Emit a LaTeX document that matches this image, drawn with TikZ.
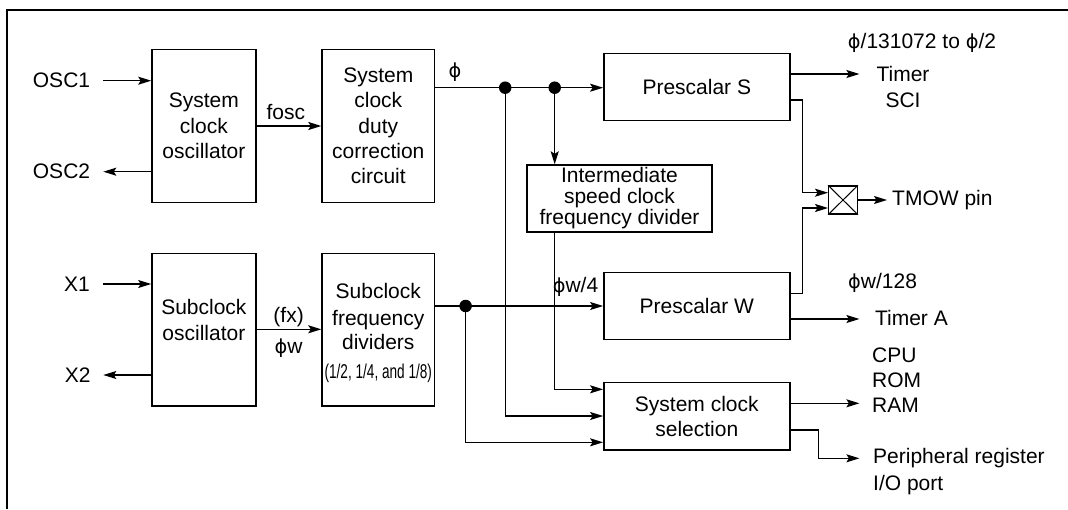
\documentclass[tikz,border=0pt]{standalone}
\usepackage{fontspec}
\usepackage{graphicx}
\setmainfont{Liberation Sans}
\newfontfamily\dvs[Scale=0.92]{DejaVu Sans}
\newcommand\ph{{\dvs ϕ}}
\newcommand\fs{\fontsize{21}{25.7}\selectfont}
\usetikzlibrary{arrows.meta,calc}
\begin{document}
\begin{tikzpicture}[x=1pt,y=-1pt,
  blk/.style={draw, line width=1.4pt, inner sep=0pt, align=center, font=\fs},
  lbl/.style={inner sep=0pt, font=\fs},
  arr/.style={-{Stealth[length=13pt,width=8pt,inset=2.5pt]}, line width=1.3pt},
  ln/.style={line width=1.3pt},
  jdot/.style={circle, fill, inner sep=0pt, minimum size=12.5pt}]
\useasboundingbox (0,0) rectangle (1068,509);
\draw[line width=2.3pt] (6.9,509) -- (6.9,10) -- (1068,10);

% blocks
\node[blk, minimum width=104pt, minimum height=153pt] (sco) at (203.9,125.8) {System\\clock\\oscillator};
\node[blk, minimum width=112.6pt, minimum height=153pt, font=\fontsize{21}{25.2}\selectfont] (dcc) at (378.3,125.8) {System\\clock\\duty\\correction\\circuit};
\node[blk, minimum width=104pt, minimum height=152.7pt] (sub) at (203.9,329.7) {};
\node[lbl, align=center] at (203.9,320) {Subclock\\oscillator};
\node[blk, minimum width=112.6pt, minimum height=152.7pt] (sfd) at (378.3,329.7) {};
\node[lbl, align=center] at (378.3,333) {Subclock\\[1pt]frequency\\[-1.4pt]dividers\\[3.3pt]\scalebox{0.68}[1]{\fontsize{20}{20}\selectfont(1/2, 1/4, and 1/8)}};
\node[blk, minimum width=186pt, minimum height=67.4pt] (psS) at (696.8,87) {Prescalar S};
\node[blk, minimum width=185pt, minimum height=67pt, font=\fontsize{21}{21}\selectfont] (isd) at (619.5,198.5) {Intermediate\\speed clock\\frequency divider};
\node[blk, minimum width=186pt, minimum height=67pt] (psW) at (696.8,305.8) {Prescalar W};
\node[blk, minimum width=186pt, minimum height=67.3pt] (scs) at (696.8,416.4) {System clock\\selection};
\node[draw, line width=1.4pt, inner sep=0pt, minimum width=28.5pt, minimum height=28pt] (xb) at (843,200) {};
\draw[line width=1pt] (xb.north west) -- (xb.south east) (xb.south west) -- (xb.north east);

% junctions
\coordinate (j1) at (505.2,87.7);
\coordinate (j2) at (554.7,87.7);
\coordinate (j3) at (465.6,306);

% pins
\coordinate (p1) at (103.3,80.7);
\coordinate (p2) at (103.3,171.7);
\coordinate (p3) at (103.3,284);
\coordinate (p4) at (103.3,375);
\draw[arr] (p1) -- (p1 -| sco.west);
\draw[arr] (p2 -| sco.west) -- (p2);
\draw[arr] (p3) -- (p3 -| sub.west);
\draw[arr] (p4 -| sub.west) -- (p4);
\node[lbl] (osc1) at (61.5,80.7) {OSC1};
\node[lbl] (osc2) at (61.5,171.7) {OSC2};
\node[lbl] (x1) at (77,284) {X1};
\node[lbl] (x2) at (77.8,375) {X2};

% fosc and fx
\coordinate (cf) at (0,126);
\draw[arr] (cf -| sco.east) -- (cf -| dcc.west);
\node[lbl] at (285.8,112) {fosc};
\coordinate (cx) at (0,329.3);
\draw[arr] (cx -| sub.east) -- (cx -| sfd.west);
\node[lbl] at (288.6,317) {(fx)};
\node[lbl] at (288.6,348) {\ph w};

% phi bus
\draw[arr] (j1 -| dcc.east) -- (j2 -| psS.west);
\node[lbl] at (455,72) {\ph};
\draw[arr] (j2) -- (j2 |- isd.north);
\coordinate (c389) at (0,389.3);
\coordinate (c416) at (0,416);
\coordinate (c442) at (0,442.3);
\draw[arr] (isd.south -| j2) -- (j2 |- c389) -- (c389 -| scs.west);
\draw[arr] (j1) -- (j1 |- c416) -- (c416 -| scs.west);
\draw[arr] (j3 -| sfd.east) -- (j3 -| psW.west);
\draw[arr] (j3) -- (j3 |- c442) -- (c442 -| scs.west);
\node[jdot] at (j1) {};
\node[jdot] at (j2) {};
\node[jdot] at (j3) {};
\node[lbl] at (575.5,287) {\ph w/4};

% outputs of prescalar S
\coordinate (tS) at (859.4,74);
\draw[arr] (tS -| psS.east) -- (tS);
\node[lbl] at (922,43) {\ph/131072 to \ph/2};
\node[lbl, align=center] at (903,87) {Timer\\SCI};
\coordinate (v1) at (802.8,100);
\coordinate (c192) at (0,192.7);
\draw[arr] (v1 -| psS.east) -- (v1) -- (v1 |- c192) -- (c192 -| xb.west);
\coordinate (v2) at (802.8,293.3);
\coordinate (c208) at (0,208);
\draw[arr] (v2 -| psW.east) -- (v2) -- (v2 |- c208) -- (c208 -| xb.west);
\coordinate (tm) at (887,200);
\draw[arr] (xb.east) -- (tm);
\node[lbl, anchor=west] at (892,200) {TMOW pin};

% outputs of prescalar W
\coordinate (ta) at (859.4,319);
\draw[arr] (ta -| psW.east) -- (ta);
\node[lbl] at (882.6,283) {\ph w/128};
\node[lbl, anchor=west] at (874.9,318) {Timer A};

% outputs of system clock selection
\coordinate (ra) at (859.4,403.3);
\draw[arr] (ra -| scs.east) -- (ra);
\node[lbl, align=left, anchor=west, font=\fontsize{21}{25}\selectfont] at (872,380) {CPU\\ROM\\RAM};
\coordinate (pe) at (859.4,458.3);
\coordinate (k) at (818.3,430);
\draw[arr] (k -| scs.east) -- (k) -- (k |- pe) -- (pe);
\node[lbl, align=left, anchor=west, font=\fontsize{21}{27}\selectfont] at (873,471.5) {Peripheral register\\I/O port};
\end{tikzpicture}
\end{document}
